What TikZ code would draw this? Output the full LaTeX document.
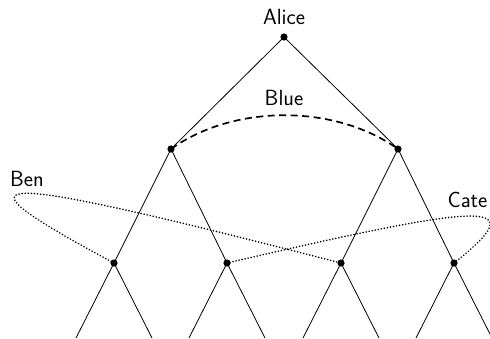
\documentclass[tikz,border=0pt]{standalone}
\begin{document}
\begin{tikzpicture}[x=1pt,y=-1pt,
  dot/.style={circle,fill,inner sep=0pt,minimum size=7.2pt},
  edge/.style={line width=0.8pt},
  lbl/.style={font=\fontsize{22}{26}\selectfont\sffamily,inner sep=0pt},
  blueset/.style={line width=1.7pt,dash pattern=on 7pt off 4.5pt},
  infoset/.style={line width=1.7pt,line cap=round,dash pattern=on 0.1pt off 3pt}]
\useasboundingbox (0,0) rectangle (490,338);

% decision nodes
\node[dot] (r)   at (284,37)  {};
\node[dot] (a)   at (171,149) {};
\node[dot] (b)   at (398,149) {};
\node[dot] (a1)  at (114,263) {};
\node[dot] (a2)  at (227,263) {};
\node[dot] (b1)  at (341,263) {};
\node[dot] (b2)  at (454,263) {};

% lower branches, cut at the bottom edge
\foreach \n/\x in {a1/114,a2/227,b1/341,b2/454}{
  \coordinate (\n L) at (\x-38,338);
  \coordinate (\n R) at (\x+38,338);
  \draw[edge] (\n.center) -- (\n L);
  \draw[edge] (\n.center) -- (\n R);
}

% tree edges
\draw[edge] (r.center) -- (a.center);
\draw[edge] (r.center) -- (b.center);
\draw[edge] (a.center) -- (a1.center);
\draw[edge] (a.center) -- (a2.center);
\draw[edge] (b.center) -- (b1.center);
\draw[edge] (b.center) -- (b2.center);

% information sets
\draw[blueset] (a.center) .. controls (234,104) and (335,104) .. (b.center);
\draw[infoset] (a1.center) .. controls (-60,170) and (-20,170) .. (b1.center);
\draw[infoset] (b2.center) .. controls (538,197) and (481,204) .. (a2.center);

% labels
\node[lbl] (alice) at (284,16.5)  {Alice};
\node[lbl] (blue)  at (284,97.5)  {Blue};
\node[lbl] (ben)   at (27,178.5)  {Ben};
\node[lbl] (cate)  at (467.5,199.5) {Cate};
\end{tikzpicture}
\end{document}
